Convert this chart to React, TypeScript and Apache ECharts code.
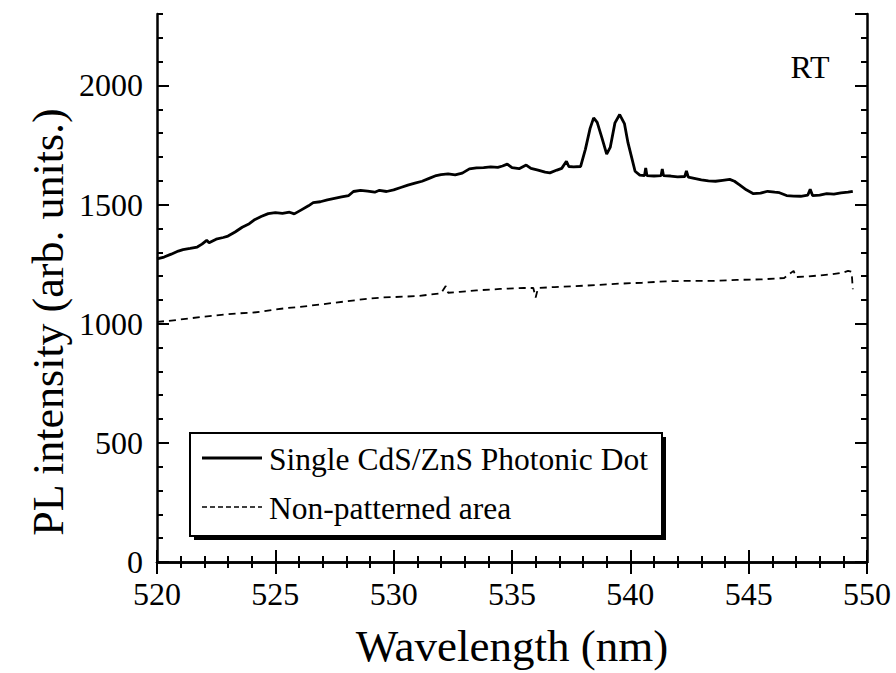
import React, { useEffect, useRef } from "react";
import * as echarts from "echarts";

const dotWavelength = [
  520.0, 520.3, 520.6, 520.9, 521.1, 521.4, 521.7, 521.9, 522.1, 522.2, 522.5, 522.8, 523.0, 523.3, 523.6, 523.9,
  524.1, 524.4, 524.7, 525.0, 525.3, 525.6, 525.8, 526.1, 526.4, 526.6, 526.9, 527.2, 527.5, 527.8, 528.1, 528.3,
  528.6, 528.9, 529.2, 529.4, 529.7, 530.0, 530.3, 530.6, 530.9, 531.2, 531.5, 531.8, 532.0, 532.3, 532.6, 532.9,
  533.2, 533.5, 533.8, 534.1, 534.4, 534.6, 534.8, 535.0, 535.3, 535.6, 535.8, 536.1, 536.4, 536.6, 536.9, 537.1,
  537.3, 537.4, 537.6, 537.9, 538.1, 538.3, 538.45, 538.6, 538.8, 539.0, 539.15, 539.35, 539.55, 539.75, 539.9, 540.05,
  540.2, 540.4, 540.6, 540.65, 540.7, 541.0, 541.3, 541.35, 541.4, 541.7, 542.0, 542.3, 542.37, 542.45, 542.7, 543.0,
  543.3, 543.6, 543.9, 544.2, 544.4, 544.6, 544.9, 545.2, 545.5, 545.8, 546.1, 546.3, 546.6, 546.9, 547.2, 547.5,
  547.6, 547.7, 548.0, 548.3, 548.6, 548.9, 549.2, 549.4,
];
const dotIntensity = [
  1272, 1280, 1292, 1305, 1311, 1316, 1322, 1334, 1350, 1340, 1355, 1362, 1368, 1385, 1405, 1420,
  1435, 1450, 1462, 1466, 1463, 1468, 1461, 1478, 1495, 1508, 1512, 1520, 1526, 1532, 1538, 1555,
  1560, 1557, 1552, 1560, 1555, 1562, 1572, 1582, 1590, 1598, 1610, 1622, 1626, 1629, 1625, 1632,
  1650, 1654, 1655, 1658, 1656, 1662, 1670, 1655, 1651, 1666, 1652, 1645, 1636, 1633, 1645, 1652,
  1682, 1660, 1658, 1660, 1732, 1820, 1864, 1845, 1780, 1712, 1740, 1843, 1878, 1840, 1760, 1700,
  1640, 1624, 1622, 1654, 1622, 1620, 1622, 1650, 1622, 1620, 1616, 1618, 1642, 1615, 1610, 1604,
  1600, 1598, 1602, 1606, 1598, 1584, 1562, 1546, 1548, 1556, 1552, 1550, 1538, 1536, 1535, 1540,
  1564, 1538, 1540, 1546, 1544, 1549, 1552, 1556,
];

const areaWavelength = [
  520.0, 520.5, 521.0, 521.5, 522.0, 522.5, 523.0, 523.5, 524.0, 524.5, 525.0, 525.5, 526.0, 526.5, 527.0, 527.5,
  528.0, 528.5, 529.0, 529.5, 530.0, 530.5, 531.0, 531.5, 532.0, 532.2, 532.3, 532.8, 533.5, 534.5, 535.5, 535.9,
  536.0, 536.1, 536.8, 537.5, 538.5, 539.5, 540.5, 541.5, 542.5, 543.5, 544.5, 545.5, 546.5, 546.9, 547.0, 547.5,
  548.0, 548.5, 549.0, 549.2, 549.35, 549.4,
];
const areaIntensity = [
  1008, 1012, 1018, 1024, 1030, 1035, 1040, 1044, 1046, 1052, 1060, 1066, 1070, 1076, 1082, 1088,
  1094, 1100, 1106, 1110, 1112, 1114, 1116, 1122, 1128, 1158, 1130, 1134, 1140, 1146, 1150, 1150,
  1110, 1150, 1154, 1157, 1162, 1168, 1172, 1178, 1180, 1180, 1184, 1186, 1192, 1222, 1196, 1198,
  1203, 1207, 1215, 1222, 1218, 1145,
];

const seriesNames = ["Single CdS/ZnS Photonic Dot", "Non-patterned area"];
const xTitle = "Wavelength (nm)";
const yTitle = "PL intensity (arb. units.)";
const cornerLabel = "RT";

const FONT = "Liberation Serif, Times New Roman, serif";

export default function App() {
  const ref = useRef<HTMLDivElement>(null);
  useEffect(() => {
    document.body.style.margin = "0";
    const chart = echarts.init(ref.current!, undefined, { renderer: "svg" });
    const grid = { left: 157, top: 14, width: 710, height: 548 };
    const axisLine = { show: true, lineStyle: { color: "#000", width: 2.5 } };
    const mkX = (pos: "bottom" | "top", labels: boolean) => ({
      type: "value",
      position: pos,
      min: 520,
      max: 550,
      interval: 5,
      axisLine,
      axisTick: { show: true, inside: true, length: 12, lineStyle: { color: "#000", width: 2 } },
      minorTick: { show: true, splitNumber: 5, length: 6, lineStyle: { color: "#000", width: 2 } },
      splitLine: { show: false },
      minorSplitLine: { show: false },
      axisLabel: {
        show: labels,
        color: "#000",
        fontFamily: FONT,
        fontSize: 32,
        margin: 16,
        formatter: (v: number) => String(v),
      },
    });
    const mkY = (pos: "left" | "right", major: boolean, labels: boolean) => ({
      type: "value",
      position: pos,
      min: 0,
      max: 2300,
      interval: major ? 500 : 100,
      axisLine: major ? axisLine : { show: false },
      axisTick: { show: true, inside: true, length: major ? 12 : 6, lineStyle: { color: "#000", width: 2 } },
      splitLine: { show: false },
      axisLabel: {
        show: labels,
        showMaxLabel: false,
        color: "#000",
        fontFamily: FONT,
        fontSize: 32,
        margin: 14,
        formatter: (v: number) => String(v),
      },
    });
    const textStyle = (t: string, size: number, align: string, va: string) => ({
      text: t,
      font: `${size}px ${FONT}`,
      fontFamily: FONT,
      fontSize: size,
      fill: "#000",
      textAlign: align,
      textVerticalAlign: va,
      align,
      verticalAlign: va,
    });
    chart.setOption({
      animation: false,
      backgroundColor: "#fff",
      grid,
      xAxis: [mkX("bottom", true), mkX("top", false)],
      yAxis: [mkY("left", true, true), mkY("left", false, false), mkY("right", true, false), mkY("right", false, false)],
      series: [
        {
          name: seriesNames[0],
          type: "line",
          xAxisIndex: 0,
          yAxisIndex: 0,
          showSymbol: false,
          data: dotWavelength.map((w, i) => [w, dotIntensity[i]]),
          lineStyle: { color: "#000", width: 2.8 },
        },
        {
          name: seriesNames[1],
          type: "line",
          xAxisIndex: 0,
          yAxisIndex: 0,
          showSymbol: false,
          data: areaWavelength.map((w, i) => [w, areaIntensity[i]]),
          lineStyle: { color: "#000", width: 1.8, type: [7, 5] },
        },
      ],
      graphic: [
        { type: "rect", shape: { x: 194, y: 437, width: 472, height: 103 }, style: { fill: "#000" }, z: 100 },
        {
          type: "rect",
          shape: { x: 190, y: 433, width: 472, height: 103 },
          style: { fill: "#fff", stroke: "#000", lineWidth: 2 },
          z: 101,
        },
        {
          type: "line",
          shape: { x1: 202, y1: 458, x2: 262, y2: 458 },
          style: { stroke: "#000", lineWidth: 3 },
          z: 102,
        },
        {
          type: "line",
          shape: { x1: 202, y1: 507, x2: 262, y2: 507 },
          style: { stroke: "#000", lineWidth: 1.5, lineDash: [5, 3] },
          z: 102,
        },
        { type: "text", x: 269, y: 459, style: textStyle(seriesNames[0], 31.5, "left", "middle"), z: 102 },
        { type: "text", x: 269, y: 508, style: textStyle(seriesNames[1], 31.5, "left", "middle"), z: 102 },
        { type: "text", x: 810, y: 67, style: textStyle(cornerLabel, 32, "center", "middle"), z: 102 },
        { type: "text", x: 512, y: 646, style: textStyle(xTitle, 45, "center", "middle"), z: 102 },
        {
          type: "text",
          x: 48,
          y: 322,
          rotation: Math.PI / 2,
          style: textStyle(yTitle, 44, "center", "middle"),
          z: 102,
        },
      ],
    });
    return () => chart.dispose();
  }, []);
  return <div ref={ref} style={{ width: 896, height: 673 }} />;
}
